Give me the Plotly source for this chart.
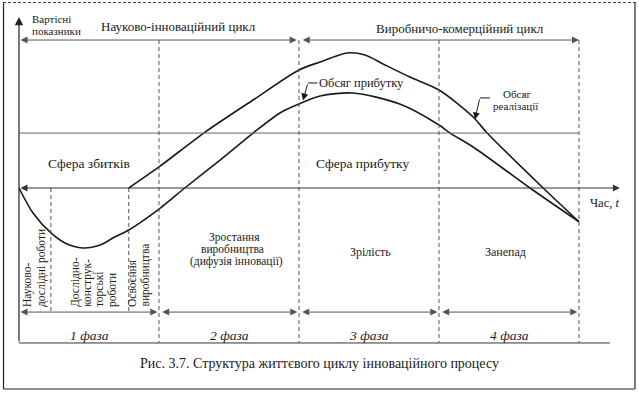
import plotly.graph_objects as go

# ---------------- data (time t: 0..100, value v: 0 = time axis) ----------------
stage_bounds = [0, 5.7, 19.6, 25, 50, 75, 100]
phase_bounds = [0, 25, 50, 75, 100]
phase_names = ["1 фаза", "2 фаза", "3 фаза", "4 фаза"]

profit_t = [0, 2.5, 5.7, 8.2, 11.4, 14.5, 17.1, 19.6, 25, 27, 29.6, 35.9, 41.8,
            46.6, 50, 53.75, 59.6, 68, 75, 77, 81.1, 91.25, 100]
profit_v = [0, -18.5, -33.3, -40.7, -44.4, -42.2, -36.3, -31.1, -15.6, -8.9, 0,
            20.7, 40.7, 55.6, 62.2, 68.1, 70.4, 62.2, 46.7, 40.7, 30.4, 0, -25]

sales_t = [19.6, 25, 33.0, 41.8, 50, 53.75, 58.6, 61.8, 65, 69.8, 75, 81.1, 83.6,
           93.6, 100]
sales_v = [0, 15.6, 40.7, 65.2, 87.4, 93.3, 100, 98.5, 91.9, 82.2, 72.6, 52.6,
           40.7, 0, -25]

profit_level = 40.7      # boundary between loss / profit zones
cycle_level = 109.6      # cycle arrows
phase_arrow_level = -91.9
base_level = -114.8
yaxis_top = 126.7
time_axis_end = 107.3
base_end = 105.5

FONT = "Liberation Serif, Tinos, Times New Roman, DejaVu Serif, serif"
LINE = "#3a3a3a"
INK = "#1a1a1a"

fig = go.Figure()

# curves
fig.add_trace(go.Scatter(x=profit_t, y=profit_v, mode="lines",
                         line=dict(color=INK, width=1.6, shape="spline", smoothing=0.8),
                         hoverinfo="skip", showlegend=False))
fig.add_trace(go.Scatter(x=sales_t, y=sales_v, mode="lines",
                         line=dict(color=INK, width=1.6, shape="spline", smoothing=0.8),
                         hoverinfo="skip", showlegend=False))

shapes = []
def hline(x0, x1, y, dash="solid", color=LINE, width=1):
    shapes.append(dict(type="line", xref="x", yref="y", x0=x0, x1=x1, y0=y, y1=y,
                       line=dict(color=color, width=width, dash=dash)))
def vline(x, y0, y1, dash="solid", color=LINE, width=1):
    shapes.append(dict(type="line", xref="x", yref="y", x0=x, x1=x, y0=y0, y1=y1,
                       line=dict(color=color, width=width, dash=dash)))

# structure lines
hline(stage_bounds[0], stage_bounds[-1], profit_level, color="#666")
hline(stage_bounds[0], base_end, base_level, color="#333")
for b in stage_bounds[1:3]:
    vline(b, 0, phase_arrow_level, dash="4px,3px", color="#555")
for b in stage_bounds[3:]:
    vline(b, cycle_level, base_level, dash="4px,3px", color="#555")

annotations = []
def arrow(x0, y0, x1, y1, side="end", color=LINE, width=1, size=1.4):
    annotations.append(dict(x=x1, y=y1, ax=x0, ay=y0, xref="x", yref="y",
                            axref="x", ayref="y", text="", showarrow=True,
                            arrowhead=2, arrowsize=size, arrowwidth=width,
                            arrowcolor=color, arrowside=side,
                            standoff=0, startstandoff=0))

# y axis
arrow(0, base_level, 0, yaxis_top, color="#222", width=1.2)
# time axis
arrow(0, 0, time_axis_end, 0, side="end+start", color="#333")
# cycle arrows
arrow(0, cycle_level, 49.6, cycle_level, side="end+start", color="#555")
arrow(50.4, cycle_level, 100, cycle_level, side="end+start", color="#555")
# phase arrows
for a, b in zip(phase_bounds[:-1], phase_bounds[1:]):
    arrow(a + (0.3 if a > 0 else 0), phase_arrow_level, b - 0.3, phase_arrow_level,
          side="end+start", color="#555")

# leader for "Обсяг прибутку"
hline(51.6, 53.3, 77.8, color=INK)
arrow(51.6, 77.8, 50.7, 64.8, color=INK)
# leader for "Обсяг реалізації"
hline(82.3, 84.1, 66.7, color=INK)
arrow(82.3, 66.7, 81.4, 50.8, color=INK)

def text(x, y, s, size=12, angle=0, italic=False, xanchor="center", yanchor="middle"):
    annotations.append(dict(x=x, y=y, xref="x", yref="y", text=s, showarrow=False,
                            textangle=angle, xanchor=xanchor, yanchor=yanchor,
                            borderpad=0,
                            font=dict(family=FONT, size=size, color=INK,
                                      style="italic" if italic else "normal")))

text(5.80, 125.2, "Вартісні", size=11)
text(6.61, 116.3, "показники", size=11)
text(28.4, 119.3, "Науково-інноваційний цикл", size=13)
text(78.75, 118.5, "Виробничо-комерційний цикл", size=13)
text(12.5, 18.5, "Сфера збитків", size=13.5)
text(61.4, 18.5, "Сфера прибутку", size=13.5)
text(53.4, 77.8, "Обсяг прибутку", size=12.5, xanchor="left")
text(88.9, 69.6, "Обсяг", size=11)
text(88.75, 60.7, "реалізації", size=11)
text(104.6, -11.1, "Час, <i>t</i>", size=12.5)
text(38.5, -37.0, "Зростання", size=11.5)
text(38.2, -45.9, "виробництва", size=11.5)
text(38.75, -54.8, "(дифузія інновації)", size=11.5)
text(62.7, -47.4, "Зрілість", size=12)
text(86.8, -47.4, "Занепад", size=12)

# vertical (rotated) stage labels, bottom-aligned
rot_bottom = -88.9
text(1.43, rot_bottom, "Науково-", size=11.5, angle=-90, yanchor="bottom")
text(3.93, rot_bottom, "дослідні роботи", size=11.5, angle=-90, yanchor="bottom")
text(10.0, rot_bottom, "Дослідно-", size=11.5, angle=-90, yanchor="bottom")
text(12.14, rot_bottom, "конструк-", size=11.5, angle=-90, yanchor="bottom")
text(14.29, rot_bottom, "торські", size=11.5, angle=-90, yanchor="bottom")
text(16.6, rot_bottom, "роботи", size=11.5, angle=-90, yanchor="bottom")
text(20.18, rot_bottom, "Освоєння", size=11.5, angle=-90, yanchor="bottom")
text(22.68, rot_bottom, "виробництва", size=11.5, angle=-90, yanchor="bottom")

for a, b, name in zip(phase_bounds[:-1], phase_bounds[1:], phase_names):
    text((a + b) / 2, -109.6, name, size=13.5, italic=True)

# caption
annotations.append(dict(x=0.5, y=1 - 363 / 393, xref="paper", yref="paper",
                        text="Рис. 3.7. Структура життєвого циклу інноваційного процесу",
                        showarrow=False, xanchor="center", yanchor="middle",
                        font=dict(family=FONT, size=14, color=INK)))

# page frame
shapes.append(dict(type="line", xref="paper", yref="paper", x0=3/639, x1=636/639,
                   y0=1-2.5/393, y1=1-2.5/393, line=dict(color="#444", width=1, dash="3px,2px")))
shapes.append(dict(type="line", xref="paper", yref="paper", x0=3.5/639, x1=3.5/639,
                   y0=1-2.5/393, y1=1-389/393, line=dict(color="#222", width=1.2)))
shapes.append(dict(type="line", xref="paper", yref="paper", x0=635/639, x1=635/639,
                   y0=1-2.5/393, y1=1-389/393, line=dict(color="#222", width=1.2)))
shapes.append(dict(type="line", xref="paper", yref="paper", x0=3.5/639, x1=635/639,
                   y0=1-389/393, y1=1-389/393, line=dict(color="#222", width=1.2)))

fig.update_layout(
    width=639, height=393, autosize=False,
    margin=dict(l=0, r=0, t=0, b=0, pad=0),
    paper_bgcolor="white", plot_bgcolor="white",
    font=dict(family=FONT, color=INK),
    xaxis=dict(range=[-19 / 5.6, (639 - 19) / 5.6], visible=False, fixedrange=True),
    yaxis=dict(range=[(188 - 393) / 1.35, 188 / 1.35], visible=False, fixedrange=True),
    shapes=shapes, annotations=annotations, showlegend=False,
)

fig.write_html("out.html", config={"displayModeBar": False},
               post_script="document.body.style.margin='0';document.body.style.overflow='hidden';")
